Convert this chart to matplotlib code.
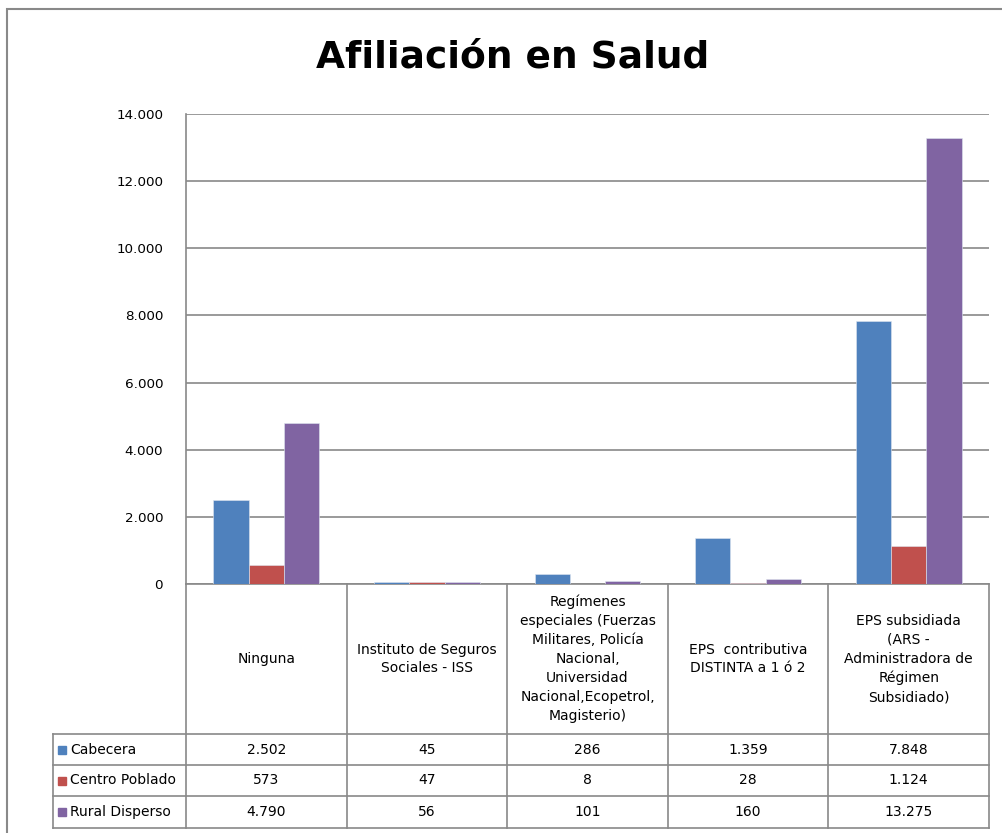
import matplotlib
matplotlib.use("Agg")
import matplotlib.pyplot as plt
from matplotlib.patches import Rectangle
from matplotlib.ticker import FuncFormatter, MultipleLocator
import numpy as np

# data
categorias = ["Ninguna",
              "Instituto de Seguros\nSociales - ISS",
              "Regímenes\nespeciales (Fuerzas\nMilitares, Policía\nNacional,\nUniversidad\nNacional,Ecopetrol,\nMagisterio)",
              "EPS  contributiva\nDISTINTA a 1 ó 2",
              "EPS subsidiada\n(ARS -\nAdministradora de\nRégimen\nSubsidiado)"]
series = ["Cabecera", "Centro Poblado", "Rural Disperso"]
cabecera = [2502, 45, 286, 1359, 7848]
centro_poblado = [573, 47, 8, 28, 1124]
rural_disperso = [4790, 56, 101, 160, 13275]
colores = ["#4F81BD", "#C0504D", "#8064A2"]

valores = [cabecera, centro_poblado, rural_disperso]

def miles(v, pos=None):
    return f"{int(round(v)):,}".replace(",", ".")

W, H = 1002, 833
fig = plt.figure(figsize=(W / 100, H / 100), dpi=100)
plt.rcParams['font.family'] = ['DejaVu Sans']
gris = "#898989"

# outer frame
fig.patches.append(Rectangle((7 / W, -0.1), 2, 1.1 - 9 / H, transform=fig.transFigure,
                             fill=False, edgecolor=gris, lw=1.5))

fig.text(513 / W, 1 - 58 / H, "Afiliación en Salud", ha="center", va="center",
         fontsize=27, fontweight="bold")

# bar axes
left, right, top, zero = 186, 989, 114, 584
ax = fig.add_axes([left / W, 1 - zero / H, (right - left) / W, (zero - top) / H])
n = len(categorias)
x = np.arange(n)
bw = 0.22
for i, (vals, c) in enumerate(zip(valores, colores)):
    ax.bar(x + (i - 1) * bw, vals, width=bw, color=c, edgecolor="#dfe6f0", linewidth=0.4, zorder=3)
ax.set_xlim(-0.5, n - 0.5)
ax.set_ylim(0, 14000)
ax.yaxis.set_major_locator(MultipleLocator(2000))
ax.yaxis.set_major_formatter(FuncFormatter(miles))
ax.grid(axis="y", color=gris, lw=1.2, zorder=0)
ax.set_xticks([])
ax.tick_params(axis="y", length=0, pad=16.5, labelsize=9.7)
for s in ["top", "right"]:
    ax.spines[s].set_visible(False)
for s in ["left", "bottom"]:
    ax.spines[s].set_color(gris)
    ax.spines[s].set_linewidth(1.2)

# data table under the axis
tleft, tbottom = 53, 828
unit = (right - left) / n
lw_units = (left - tleft) / unit
tab = fig.add_axes([tleft / W, 1 - tbottom / H, (right - tleft) / W, (tbottom - zero) / H])
tab.set_xlim(-0.5 - lw_units, n - 0.5)
tab.set_ylim(tbottom - zero, 0)
tab.axis("off")
hdr = 150
row_y = [hdr, hdr + 31, hdr + 62, tbottom - zero]
xl = -0.5 - lw_units

kw = dict(color=gris, lw=1.2, clip_on=False)
for k in range(n + 1):
    tab.plot([k - 0.5, k - 0.5], [0, row_y[-1]], **kw)
tab.plot([xl, xl], [row_y[0], row_y[-1]], **kw)
for yy in row_y:
    tab.plot([xl, n - 0.5], [yy, yy], **kw)

for k, cat in enumerate(categorias):
    tab.text(k, hdr / 2, cat, ha="center", va="center", fontsize=10, linespacing=1.45)

for r, (nombre, vals, c) in enumerate(zip(series, valores, colores)):
    yc = (row_y[r] + row_y[r + 1]) / 2
    sq = 8 / unit
    tab.add_patch(Rectangle((xl + 5 / unit, yc - 4), sq, 8, color=c, clip_on=False))
    tab.text(xl + 17 / unit, yc, nombre, ha="left", va="center", fontsize=10)
    for k, v in enumerate(vals):
        tab.text(k, yc, miles(v), ha="center", va="center", fontsize=10)

fig.savefig("out.png", dpi=100)
